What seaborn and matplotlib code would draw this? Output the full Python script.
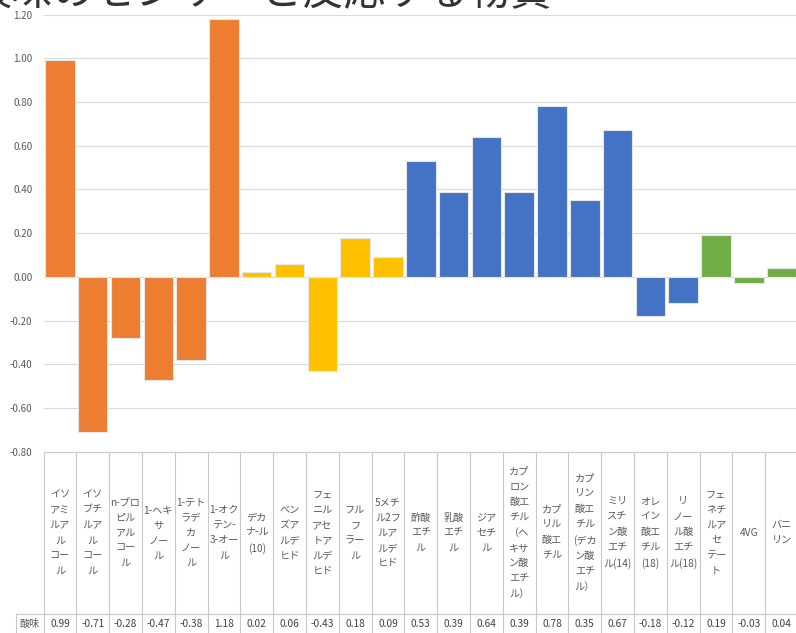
import matplotlib
matplotlib.use("Agg")
import matplotlib.pyplot as plt
import seaborn as sns
import pandas as pd

# Substance names as wrapped in the data-table cells
labels = [
    "イソ\nアミ\nルア\nル\nコー\nル",
    "イソ\nブチ\nルア\nル\nコー\nル",
    "n-プロ\nピル\nアル\nコー\nル",
    "1-ヘキ\nサ\nノー\nル",
    "1-テト\nラデ\nカ\nノー\nル",
    "1-オク\nテン-\n3-オー\nル",
    "デカ\nナ-ル\n(10)",
    "ベン\nズア\nルデ\nヒド",
    "フェ\nニル\nアセ\nトア\nルデ\nヒド",
    "フル\nフ\nラー\nル",
    "5メチ\nル2フ\nルア\nルデ\nヒド",
    "酢酸\nエチ\nル",
    "乳酸\nエチ\nル",
    "ジア\nセチ\nル",
    "カプ\nロン\n酸エ\nチル\n（ヘ\nキサ\nン酸\nエチ\nル）",
    "カプ\nリル\n酸エ\nチル",
    "カプ\nリン\n酸エ\nチル\n(デカ\nン酸\nエチ\nル）",
    "ミリ\nスチ\nン酸\nエチ\nル(14)",
    "オレ\nイン\n酸エ\nチル\n(18)",
    "リ\nノー\nル酸\nエチ\nル(18)",
    "フェ\nネチ\nルア\nセ\nテー\nト",
    "4VG",
    "バニ\nリン",
]

# Sourness sensor response
sourness = [0.99, -0.71, -0.28, -0.47, -0.38, 1.18, 0.02, 0.06, -0.43, 0.18,
            0.09, 0.53, 0.39, 0.64, 0.39, 0.78, 0.35, 0.67, -0.18, -0.12,
            0.19, -0.03, 0.04]

# Compound class of each substance
groups = (["alcohol"] * 6 + ["aldehyde"] * 5 + ["ester"] * 9 + ["phenol"] * 3)

palette = {"alcohol": "#ED7D31", "aldehyde": "#FFC000",
           "ester": "#4472C4", "phenol": "#70AD47"}

row_label = "酸味"
title = "酸味のセンサーと反応する物質"
yticks = [-0.80, -0.60, -0.40, -0.20, 0.00, 0.20, 0.40, 0.60, 0.80, 1.00, 1.20]

sns.set_style("white")
plt.rcParams["font.family"] = ["Noto Sans CJK JP", "DejaVu Sans"]

W, H = 796, 633
fig = plt.figure(figsize=(W / 100, H / 100), dpi=100)

x0, x1 = 43.5, 798.0
y_top, y_bot = 14.6, 451.7
ax = fig.add_axes([x0 / W, 1 - y_bot / H, (x1 - x0) / W, (y_bot - y_top) / H])

df = pd.DataFrame({"name": labels, "value": sourness, "group": groups})
sns.barplot(data=df, x="name", y="value", hue="group", order=labels,
            palette=palette, dodge=False, width=0.9, saturation=1,
            edgecolor="#e6e6e6", linewidth=0.8, legend=False, ax=ax)

ax.set_xlim(-0.5, len(labels) - 0.5)
ax.set_ylim(-0.8, 1.2)
ax.set_yticks(yticks)
ax.set_yticklabels([f"{v:.2f}" for v in yticks])
ax.tick_params(axis="y", length=0, pad=8, labelsize=7, labelcolor="#595959")
ax.set_xticks([])
ax.set_xlabel("")
ax.set_ylabel("")
ax.grid(axis="y", color="#d9d9d9", linewidth=0.8)
ax.set_axisbelow(True)
for s in ax.spines.values():
    s.set_visible(False)

# Data table under the plot
tab = fig.add_axes([x0 / W, 0, (x1 - x0) / W, (H - y_bot) / H])
tab.set_xlim(-0.5, len(labels) - 0.5)
tab.set_ylim(H, y_bot)
tab.axis("off")
line_kw = dict(color="#c8c8c8", linewidth=0.8, clip_on=False)
row_y = 614
left_x = -0.5 + (16 - x0) / ((x1 - x0) / len(labels))
for i in range(len(labels) + 1):
    tab.plot([i - 0.5, i - 0.5], [y_bot, H], **line_kw)
tab.plot([-0.5, len(labels) - 0.5], [y_bot, y_bot], **line_kw)
tab.plot([left_x, len(labels) - 0.5], [row_y, row_y], **line_kw)
tab.plot([left_x, left_x], [row_y, H], **line_kw)

for i, (lab, v) in enumerate(zip(labels, sourness)):
    tab.text(i, (y_bot + row_y) / 2, lab, ha="center", va="center",
             fontsize=7.3, color="#595959", linespacing=1.65, clip_on=False)
    tab.text(i, 624, f"{v:.2f}", ha="center", va="center",
             fontsize=7.3, color="#404040", clip_on=False)
tab.text((left_x - 0.5) / 2, 624, row_label, ha="center", va="center",
         fontsize=7.3, color="#595959", clip_on=False)

fig.text(-30 / W, 1 - 5 / H, title, ha="left", va="baseline",
         fontsize=30, color="#333333")

fig.savefig("out.png", dpi=100)
